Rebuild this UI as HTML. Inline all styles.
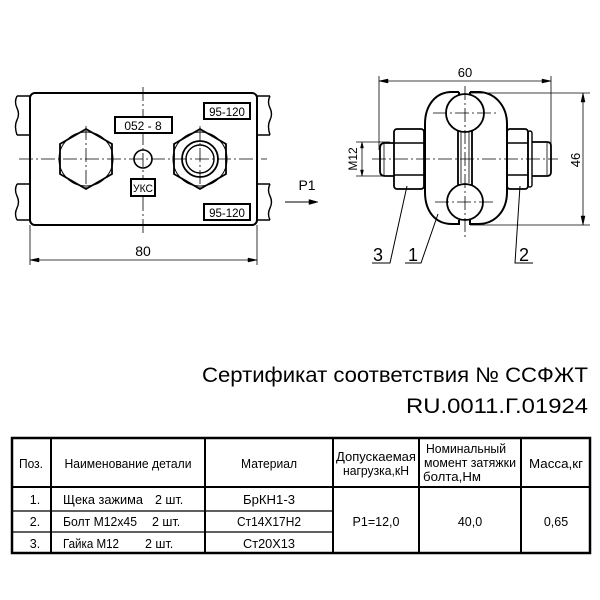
<!DOCTYPE html>
<html><head><meta charset="utf-8"><style>
html,body{margin:0;padding:0;background:#fff;}
svg{display:block;}
text{font-family:"Liberation Sans",sans-serif;fill:#000;}
</style></head><body>
<svg width="600" height="600" viewBox="0 0 600 600" xmlns="http://www.w3.org/2000/svg">
<g fill="none" stroke="#000">
<path d="M30,96 H17 M30,135 H17 M17,96 q-3,6 0,12 q3,6 0,12 q-3,6 0,15" stroke-width="1.4"/>
<path d="M30,184 H17 M30,220 H17 M17,184 q-3,6 0,12 q3,6 0,12 q-3,6 0,12" stroke-width="1.4"/>
<path d="M257,96 H270 M257,135 H270 M270,96 q-3,6 0,12 q3,6 0,12 q-3,6 0,15" stroke-width="1.4"/>
<path d="M257,184 H270 M257,220 H270 M270,184 q-3,6 0,12 q3,6 0,12 q-3,6 0,12" stroke-width="1.4"/>
<rect x="30" y="93" width="227" height="132" rx="5" stroke-width="2"/>
<line x1="19" y1="159" x2="267" y2="159" stroke-width="0.8" stroke-dasharray="14,3,2,3"/>
<line x1="143" y1="87" x2="143" y2="233" stroke-width="0.8" stroke-dasharray="14,3,2,3"/>
<line x1="86" y1="126" x2="86" y2="192" stroke-width="0.8" stroke-dasharray="14,3,2,3"/>
<line x1="200" y1="126" x2="200" y2="192" stroke-width="0.8" stroke-dasharray="14,3,2,3"/>
<polygon points="86,129 112,144 112,174 86,189 60,174 60,144" stroke-width="1.8"/>
<circle cx="86" cy="159" r="27" stroke-width="1"/>
<polygon points="200,129 226,144 226,174 200,189 174,174 174,144" stroke-width="1.8"/>
<circle cx="200" cy="159" r="27" stroke-width="1"/>
<circle cx="200" cy="159" r="18" stroke-width="1.8"/>
<circle cx="200" cy="159" r="14" stroke-width="1.4"/>
<circle cx="143" cy="159" r="9" stroke-width="1.6"/>
<rect x="115" y="117" width="57" height="16" stroke-width="2" fill="#fff"/>
<rect x="131" y="179" width="24" height="17" stroke-width="2" fill="#fff"/>
<rect x="204" y="103" width="46" height="16" stroke-width="2"/>
<rect x="204" y="204" width="46" height="16" stroke-width="2"/>
<line x1="30" y1="225" x2="30" y2="265" stroke-width="0.8"/>
<line x1="257" y1="225" x2="257" y2="265" stroke-width="0.8"/>
<line x1="30" y1="260" x2="257" y2="260" stroke-width="0.8"/>
<path d="M30,260 l9,-2 v4 z M257,260 l-9,-2 v4 z" fill="#000" stroke-width="0.5"/>
<line x1="285" y1="202" x2="312" y2="202" stroke-width="1"/>
<path d="M318,202 l-9,-2.5 v5 z" fill="#000" stroke-width="0.5"/>

<line x1="379" y1="76" x2="379" y2="150" stroke-width="0.8"/>
<line x1="551" y1="76" x2="551" y2="150" stroke-width="0.8"/>
<line x1="379" y1="81" x2="551" y2="81" stroke-width="0.8"/>
<path d="M379,81 l9,-2 v4 z M551,81 l-9,-2 v4 z" fill="#000" stroke-width="0.5"/>
<line x1="470" y1="93" x2="590" y2="93" stroke-width="0.8"/>
<line x1="470" y1="225" x2="590" y2="225" stroke-width="0.8"/>
<line x1="583" y1="93" x2="583" y2="225" stroke-width="0.8"/>
<path d="M583,93 l-2,9 h4 z M583,225 l-2,-9 h4 z" fill="#000" stroke-width="0.5"/>
<line x1="356" y1="142" x2="390" y2="142" stroke-width="0.8"/>
<line x1="356" y1="176" x2="390" y2="176" stroke-width="0.8"/>
<line x1="362" y1="142" x2="362" y2="176" stroke-width="0.8"/>
<path d="M362,142 l-1.5,6 h3 z M362,176 l-1.5,-6 h3 z" fill="#000" stroke-width="0.5"/>
<path d="M459,92 V96 M459,92 H452 C435,92 425,106 425,124 V192 C425,211 435,224 452,224 H459 V220" stroke-width="2"/>
<path d="M470,92 V96 M470,92 H478 C495,92 507,106 507,124 V192 C507,211 495,224 478,224 H470 V220" stroke-width="2"/>
<circle cx="465" cy="113" r="19" stroke-width="1.8" fill="#fff"/>
<circle cx="465" cy="202" r="18" stroke-width="1.8" fill="#fff"/>
<path d="M458,130 V185 M472,130 V185" stroke-width="1.8"/>
<path d="M461,132 V183 M469,132 V183" stroke-width="0.8"/>
<path d="M394,143 H385 Q380,143 380,148 V171 Q380,176 385,176 H394" stroke-width="1.8"/>
<line x1="384" y1="144" x2="384" y2="175" stroke-width="0.8"/>
<rect x="394" y="129" width="30" height="60" rx="3" stroke-width="1.8"/>
<path d="M394,143 H424 M394,175 H424" stroke-width="1.6"/>
<rect x="507" y="129" width="21" height="60" rx="3" stroke-width="1.8"/>
<path d="M507,143 H528 M507,175 H528" stroke-width="1.6"/>
<rect x="528" y="131" width="4" height="56" rx="2" stroke-width="1.4"/>
<path d="M532,142 H547 Q551,142 551,146 V172 Q551,176 547,176 H532" stroke-width="1.8"/>
<line x1="547" y1="143" x2="547" y2="175" stroke-width="0.8"/>
<line x1="372" y1="159" x2="558" y2="159" stroke-width="0.8" stroke-dasharray="14,3,2,3"/>
<line x1="465" y1="86" x2="465" y2="238" stroke-width="0.8" stroke-dasharray="14,3,2,3"/>
<line x1="433" y1="113" x2="497" y2="113" stroke-width="0.8" stroke-dasharray="14,3,2,3"/>
<line x1="435" y1="202" x2="495" y2="202" stroke-width="0.8" stroke-dasharray="14,3,2,3"/>
<path d="M407,186 L390,263 H372" stroke-width="1"/>
<path d="M438,214 L421,263 H405" stroke-width="1"/>
<path d="M520,186 L515,263 H533" stroke-width="1"/>

<rect x="12" y="438" width="578" height="115" stroke-width="2.5"/>
<line x1="12" y1="487" x2="590" y2="487" stroke-width="2"/>
<line x1="12" y1="511" x2="333" y2="511" stroke-width="1.2"/>
<line x1="12" y1="532" x2="333" y2="532" stroke-width="1.2"/>
<path d="M51,438 V553 M205,438 V553 M333,438 V553 M419,438 V553 M521,438 V553" stroke-width="2"/>
</g>
<g>
<text x="143" y="130" font-size="12" text-anchor="middle">052 - 8</text>
<text x="143" y="192" font-size="11" text-anchor="middle" textLength="20" lengthAdjust="spacingAndGlyphs">УКС</text>
<text x="227" y="116" font-size="11.5" text-anchor="middle">95-120</text>
<text x="227" y="217" font-size="11.5" text-anchor="middle">95-120</text>
<text x="143" y="256" font-size="14" text-anchor="middle">80</text>
<text x="307" y="190" font-size="14" text-anchor="middle">P1</text>
<text x="465" y="77" font-size="13" text-anchor="middle">60</text>
<text transform="translate(580,160) rotate(-90)" font-size="13" text-anchor="middle">46</text>
<text transform="translate(357,159) rotate(-90)" font-size="12" text-anchor="middle">M12</text>
<text x="378" y="261" font-size="18" text-anchor="middle">3</text>
<text x="413" y="261" font-size="18" text-anchor="middle">1</text>
<text x="524" y="261" font-size="18" text-anchor="middle">2</text>
<text x="588" y="382" font-size="21" text-anchor="end" textLength="386" lengthAdjust="spacingAndGlyphs">Сертификат соответствия № ССФЖТ</text>
<text x="588" y="413" font-size="21" text-anchor="end" textLength="182" lengthAdjust="spacingAndGlyphs">RU.0011.Г.01924</text>
<g font-size="12.5" text-anchor="middle">
<text x="31" y="468" textLength="24" lengthAdjust="spacingAndGlyphs">Поз.</text>
<text x="128" y="468" textLength="127" lengthAdjust="spacingAndGlyphs">Наименование детали</text>
<text x="269" y="468" textLength="56" lengthAdjust="spacingAndGlyphs">Материал</text>
<text x="376" y="461" textLength="80" lengthAdjust="spacingAndGlyphs">Допускаемая</text>
<text x="376" y="475" textLength="66" lengthAdjust="spacingAndGlyphs">нагрузка,кН</text>
<text x="466" y="453" textLength="80" lengthAdjust="spacingAndGlyphs">Номинальный</text>
<text x="470" y="467" textLength="92" lengthAdjust="spacingAndGlyphs">момент затяжки</text>
<text x="452" y="481" textLength="58" lengthAdjust="spacingAndGlyphs">болта,Нм</text>
<text x="556" y="468" textLength="54" lengthAdjust="spacingAndGlyphs">Масса,кг</text>
<text x="35" y="504">1.</text>
<text x="35" y="526">2.</text>
<text x="35" y="548">3.</text>
<text x="269" y="504" textLength="52" lengthAdjust="spacingAndGlyphs">БрКН1-3</text>
<text x="269" y="526" textLength="64" lengthAdjust="spacingAndGlyphs">Ст14Х17Н2</text>
<text x="269" y="548" textLength="52" lengthAdjust="spacingAndGlyphs">Ст20Х13</text>
<text x="376" y="526">Р1=12,0</text>
<text x="470" y="526">40,0</text>
<text x="556" y="526">0,65</text>
</g>
<g font-size="12.5">
<text x="63" y="504" textLength="80" lengthAdjust="spacingAndGlyphs">Щека зажима</text>
<text x="155" y="504">2 шт.</text>
<text x="63" y="526" textLength="74" lengthAdjust="spacingAndGlyphs">Болт М12х45</text>
<text x="152" y="526">2 шт.</text>
<text x="63" y="548" textLength="56" lengthAdjust="spacingAndGlyphs">Гайка М12</text>
<text x="145" y="548">2 шт.</text>
</g>
</g>
</svg>
</body></html>
